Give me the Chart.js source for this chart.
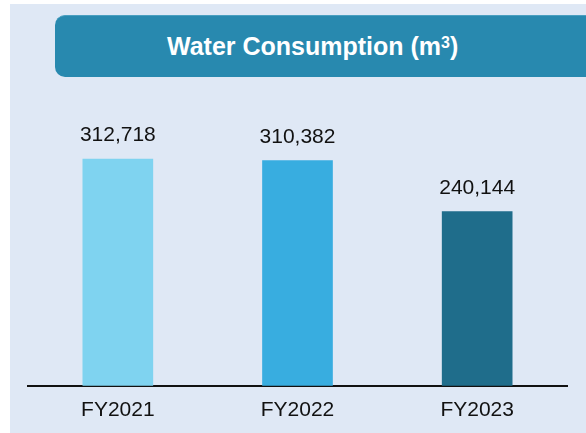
<!DOCTYPE html>
<html>
<head>
<meta charset="utf-8">
<script src="https://cdn.jsdelivr.net/npm/chart.js@4.4.1/dist/chart.umd.min.js"></script>
<style>
    html, body { margin: 0; padding: 0; background: #ffffff; }
    #wrap { position: relative; width: 586px; height: 433px; overflow: hidden; }
    #panel { position: absolute; left: 10px; top: 4px; right: 0; bottom: 0; background: #dfe8f5; }
    #title {
        position: absolute; left: 55px; top: 15px; width: 545px; height: 62px;
        background: #2889af; border-top: 1px solid #4a9fc0; box-sizing: border-box;
        border-radius: 10px; color: #fff;
        font: bold 25px "Liberation Sans", Arial, sans-serif;
        display: flex; align-items: center; padding-left: 112px;
    }
    #title sup { font-size: 16px; line-height: 0; position: relative; top: -4px; }
    canvas { position: absolute; left: 0; top: 0; }
</style>
</head>
<body>
<div id="wrap">
    <div id="panel"></div>
    <div id="title">Water Consumption (m<sup>3</sup>)</div>
    <canvas id="chart" width="586" height="446"></canvas>
</div>
<script>
const categorias = ['FY2021', 'FY2022', 'FY2023'];
const consumo = [312718, 310382, 240144];
const colores = ['#7fd3f0', '#38ade0', '#1f6d8b'];

// etiquetas de valor encima de cada barra
const valueLabels = {
    id: 'valueLabels',
    afterDatasetsDraw(chart) {
        const { ctx } = chart;
        const meta = chart.getDatasetMeta(0);
        ctx.save();
        ctx.font = '21px "Liberation Sans", Arial, sans-serif';
        ctx.fillStyle = '#111';
        ctx.textAlign = 'center';
        ctx.textBaseline = 'alphabetic';
        meta.data.forEach((bar, i) => {
            ctx.fillText(consumo[i].toLocaleString('en-US'), bar.x, bar.y - 18);
        });
        ctx.restore();
    }
};

new Chart(document.getElementById('chart'), {
    type: 'bar',
    data: {
        labels: categorias,
        datasets: [{
            data: consumo,
            backgroundColor: colores,
            borderWidth: 0,
            barThickness: 70
        }]
    },
    options: {
        responsive: false,
        animation: false,
        layout: { padding: { left: 28, right: 19, top: 100, bottom: 11 } },
        plugins: { legend: { display: false }, tooltip: { enabled: false } },
        scales: {
            x: {
                grid: { display: false, drawTicks: false },
                border: { display: true, color: '#111', width: 2 },
                ticks: {
                    color: '#111',
                    padding: 12,
                    font: { family: '"Liberation Sans", Arial, sans-serif', size: 21 }
                }
            },
            y: {
                display: false,
                min: 0,
                max: 394000
            }
        }
    },
    plugins: [valueLabels]
});
</script>
</body>
</html>
